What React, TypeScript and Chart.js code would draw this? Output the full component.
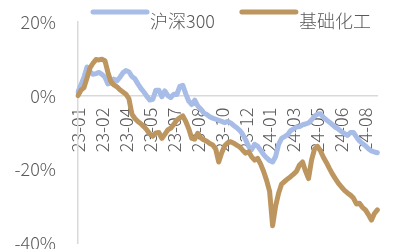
import React, { useEffect, useRef } from "react";
import { Chart, registerables } from "chart.js";

Chart.register(...registerables);

// Tick labels shown on the category axis (one every 8 points)
const tickLabels = [
  "23-01", "23-02", "23-04", "23-05", "23-07", "23-08", "23-10",
  "23-12", "24-01", "24-03", "24-05", "24-06", "24-08",
];

const seriesNames = ["沪深300", "基础化工"];

// 沪深300 cumulative return (%), sampled every ~4 trading days
const hs300 = [
  1, 3, 5, 7.8, 6.5, 5.8, 6, 6.3, 5.8, 5,
  3.2, 3.4, 4.5, 4, 5, 6.2, 6.8, 6.5, 5.2, 4.6,
  3.2, 2, 1, -0.2, -1.2, -1, 1.5, 1.5, -0.3, 1.3,
  0, -0.5, 0.4, 0.3, 2.5, 2.8, 0.5, -1.5, -2.4, -1.2,
  -2.8, -3.6, -4.7, -5.1, -5.7, -6.1, -6.4, -6.7, -7, -7.3,
  -7, -7.4, -8.1, -8.7, -9.4, -10.5, -12, -13.8, -14.6, -13.2,
  -13.7, -14.8, -16, -16.9, -17.6, -18, -16.5, -13.2, -11.6, -11.1,
  -10.6, -9.5, -9, -8.5, -8.4, -7.9, -7.7, -7.4, -6.6, -5.6,
  -5, -4.9, -5.9, -6.6, -7.2, -7.9, -8.6, -9.1, -9.7, -10.3,
  -10.8, -10, -10, -11.2, -12.3, -13, -13.6, -14.4, -15, -15.3,
  -15.5,
];

// 基础化工 cumulative return (%), same sampling
const chem = [
  0, 1.5, 2.2, 4.8, 7.5, 8.8, 9.8, 9.7, 9.9, 9.5,
  6.3, 3.8, 2.9, 2.4, 1.6, 1, 0.4, -0.8, -5, -6.2,
  -7, -7.6, -8.4, -9.3, -10.4, -11, -10.1, -10, -11.6, -10.5,
  -9.3, -8.8, -7.8, -6.6, -6, -5.5, -7, -9, -11.6, -11.8,
  -10.2, -11.4, -12, -12.4, -13, -13.4, -14.5, -18, -15.5, -13.6,
  -12.8, -12.5, -12.9, -13.4, -13.9, -14.8, -15.6, -15.2, -16.6, -17.5,
  -17, -18.6, -20.6, -23, -26, -35.3, -30, -26.5, -24, -23.3,
  -22.6, -22, -21.3, -20.5, -18.8, -18, -20.5, -22.5, -17.5, -14.5,
  -13.8, -15, -16.8, -18.2, -19.8, -21.3, -22.6, -23.8, -24.8, -25.7,
  -26.4, -27, -27.8, -29.4, -29.2, -30.3, -31, -32.3, -33.8, -32,
  -31,
];

const yTicks = [20, 0, -20, -40];

const TICK_EVERY = 8;
const categories = hs300.map((_, i) =>
  i % TICK_EVERY === 0 ? tickLabels[i / TICK_EVERY] ?? "" : ""
);

const BLUE = "#a7bce6";
const BROWN = "#bc955f";
const TEXT = "#595959";
const AXIS = "#d9d9d9";
const FONT_FAMILY = '"Noto Sans CJK SC", "Noto Sans", sans-serif';

const legendPlugin = {
  id: "customLegend",
  afterDraw(chart: any) {
    const ctx = chart.ctx as CanvasRenderingContext2D;
    const colors = [BLUE, BROWN];
    ctx.save();
    ctx.font = `300 18px ${FONT_FAMILY}`;
    ctx.textBaseline = "middle";
    ctx.textAlign = "left";
    let x = 93;
    seriesNames.forEach((name, i) => {
      ctx.strokeStyle = colors[i];
      ctx.lineWidth = 5;
      ctx.lineCap = "round";
      ctx.beginPath();
      ctx.moveTo(x, 12);
      ctx.lineTo(x + 54, 12);
      ctx.stroke();
      ctx.fillStyle = TEXT;
      const tx = x + 57;
      ctx.fillText(name, tx, 21);
      x = tx + ctx.measureText(name).width + 27;
    });
    ctx.restore();
  },
};

export default function App() {
  const ref = useRef<HTMLCanvasElement | null>(null);

  useEffect(() => {
    document.body.style.margin = "0";
    const canvas = ref.current;
    if (!canvas) return;
    const font = { family: FONT_FAMILY, size: 18, weight: "300" as any };
    const chart = new Chart(canvas, {
      type: "line",
      data: {
        labels: categories,
        datasets: [
          {
            label: seriesNames[0],
            data: hs300,
            borderColor: BLUE,
            backgroundColor: BLUE,
            borderWidth: 5,
            pointRadius: 0,
            tension: 0,
            borderJoinStyle: "round",
            borderCapStyle: "round",
            order: 1,
          },
          {
            label: seriesNames[1],
            data: chem,
            borderColor: BROWN,
            backgroundColor: BROWN,
            borderWidth: 5,
            pointRadius: 0,
            tension: 0,
            borderJoinStyle: "round",
            borderCapStyle: "round",
            order: 0,
          },
        ],
      },
      options: {
        animation: false,
        responsive: false,
        maintainAspectRatio: false,
        layout: { padding: { left: 0, right: 0, top: 22, bottom: 6 } },
        plugins: {
          legend: { display: false },
          tooltip: { enabled: false },
        },
        scales: {
          x: {
            type: "category",
            position: { y: 0 } as any,
            offset: false,
            grid: { display: false, drawTicks: false },
            border: { display: true, color: AXIS, width: 1.5 },
            ticks: {
              autoSkip: false,
              maxRotation: 90,
              minRotation: 90,
              padding: 12,
              color: TEXT,
              font,
            },
          },
          y: {
            type: "linear",
            min: -40,
            max: 20,
            afterBuildTicks: (scale: any) => {
              scale.ticks = yTicks.map((v) => ({ value: v }));
            },
            afterFit: (scale: any) => {
              scale.width = 78;
              scale.paddingTop = 0;
              scale.paddingBottom = 0;
            },
            grid: { display: false, drawTicks: false },
            border: { display: true, color: AXIS, width: 1.5 },
            ticks: {
              padding: 22,
              color: TEXT,
              font,
              callback: (v: any) => `${v}%`,
            },
          },
        },
      },
      plugins: [legendPlugin],
    });
    return () => chart.destroy();
  }, []);

  return (
    <div style={{ width: 411, height: 249, position: "relative" }}>
      <canvas ref={ref} width={411} height={249} style={{ display: "block" }} />
    </div>
  );
}
